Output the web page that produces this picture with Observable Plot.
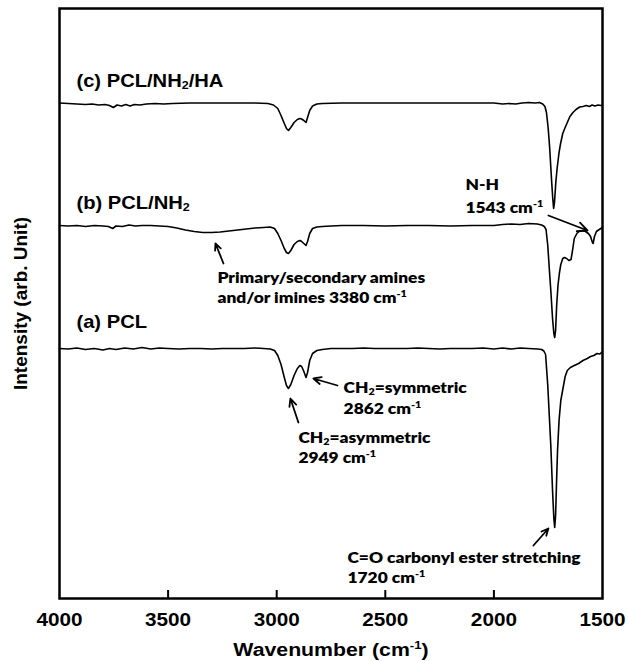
<!DOCTYPE html>
<html>
<head>
<meta charset="utf-8">
<script src="https://cdn.jsdelivr.net/npm/d3@7"></script>
<script src="https://cdn.jsdelivr.net/npm/@observablehq/plot@0.6"></script>
<style>
  html, body { margin: 0; padding: 0; background: #fff; }
</style>
</head>
<body>
<script>
// ---- Data (wavenumber cm^-1, intensity in arbitrary units) ----
const pcl = [
  [4000,250],[3960,249.5],[3920,250.5],[3880,249],[3840,250],[3800,248.5],[3770,250],[3740,249],
  [3700,250.5],[3660,249.5],[3620,251],[3580,249.5],[3540,250.5],[3500,250],[3450,249.5],[3400,250],
  [3350,250],[3300,249.5],[3250,250],[3200,250],[3150,250],[3100,250.5],[3060,250],[3030,249.5],
  [3010,248],[2995,243],[2980,234],[2965,221],[2955,213],[2946,210],[2935,214],[2920,223],[2905,230],
  [2893,233],[2885,232],[2875,227],[2865,221],[2858,226],[2848,238],[2835,245],[2815,248],[2790,249],
  [2750,250],[2700,250],[2650,250],[2600,250.5],[2550,250],[2500,250],[2450,250],[2400,250],
  [2350,250.5],[2300,250],[2250,249.5],[2200,250],[2150,250],[2100,250],[2050,250.5],[2000,249.5],
  [1960,250.5],[1920,249.5],[1880,250.5],[1840,250],[1800,249.5],[1780,249],[1770,247.5],[1762,244],
  [1752,213],[1745,183],[1738,153],[1730,108],[1724,80],[1720,71],[1716,83],[1712,113],[1707,148],
  [1700,178],[1692,198],[1682,210],[1672,222],[1662,228],[1648,231],[1630,233],[1610,235],[1590,238],
  [1570,240],[1555,242],[1540,243],[1525,245],[1512,244.5],[1500,247]
];
const pclNH2 = [
  [4000,373],[3960,372.5],[3920,373],[3880,372],[3840,373],[3800,372.5],[3775,372],[3755,370],
  [3740,372.5],[3710,372],[3680,373.5],[3650,372.5],[3620,373],[3580,373],[3540,372.5],[3500,372],
  [3460,370.5],[3420,368.5],[3380,367],[3340,366],[3300,366],[3260,366.5],[3220,367.5],[3180,368.5],
  [3140,369.5],[3100,370.5],[3060,371],[3030,371.5],[3010,370],[2995,365],[2980,358],[2965,350],
  [2955,346],[2946,345],[2935,348],[2920,354],[2905,357],[2893,358],[2885,357],[2875,355],[2865,353],
  [2858,357],[2848,365],[2835,370],[2815,371.5],[2790,372],[2750,372.5],[2700,373],[2600,373],
  [2500,372.5],[2400,373],[2300,373],[2200,372.5],[2100,373],[2000,373],[1960,374],[1920,374.5],
  [1880,374],[1840,375],[1800,374.5],[1780,373.5],[1768,372],[1760,369],[1752,353],[1745,330],
  [1738,308],[1730,280],[1724,265],[1720,261],[1716,268],[1711,293],[1705,313],[1698,326],[1692,334],
  [1683,340],[1675,341],[1665,340],[1655,338],[1645,339],[1638,348],[1630,360],[1618,365],
  [1605,367.5],[1592,368],[1578,367],[1565,365],[1555,362],[1548,357],[1543,355],[1537,362],
  [1528,367],[1515,369],[1500,371]
];
const pclNH2HA = [
  [4000,495.5],[3960,495],[3920,494.5],[3880,494],[3850,494.5],[3820,493.5],[3790,494],[3770,493],
  [3752,491],[3735,493.5],[3715,492.5],[3695,494],[3675,492.5],[3655,494],[3630,493.5],[3600,494.5],
  [3560,495],[3520,494.5],[3480,495],[3400,495.5],[3300,495.5],[3200,495.5],[3100,495.5],[3040,495],
  [3015,493.5],[2995,490],[2980,483],[2965,475],[2955,470],[2946,468],[2935,471],[2920,476],[2905,479],
  [2893,480],[2885,479.5],[2875,478],[2865,476],[2858,481],[2848,488],[2835,492.5],[2815,494.5],
  [2790,495],[2700,495.5],[2600,495.5],[2500,495.5],[2400,495.5],[2300,495.5],[2200,495.5],[2100,495.5],
  [2000,495.5],[1960,494.5],[1930,495],[1900,494.5],[1870,495.5],[1840,496],[1810,495.5],[1790,496],
  [1775,494.5],[1765,492],[1758,486],[1750,470],[1743,450],[1735,420],[1729,400],[1725,390],
  [1721,396],[1715,416],[1709,430],[1700,446],[1693,455],[1683,465],[1672,471],[1662,476],
  [1650,482],[1636,486],[1622,489],[1605,491.5],[1590,492],[1575,493],[1560,492],[1548,493.5],
  [1535,492.5],[1520,493.5],[1508,493],[1500,493.5]
];
const seriesNames = ["(a) PCL", "(b) PCL/NH_{2}", "(c) PCL/NH_{2}/HA"];
const seriesLabelWn = [3922, 3922, 3922];
const seriesLabelInt = [271, 390, 512];

const xTicks = [4000, 3500, 3000, 2500, 2000, 1500];
const innerTicks = [3500, 3000, 2500, 2000];

const noteTexts = [
  "Primary/secondary amines", "and/or imines 3380 cm^{-1}",
  "N-H", "1543 cm^{-1}",
  "CH_{2}=symmetric", "2862 cm^{-1}",
  "CH_{2}=asymmetric", "2949 cm^{-1}",
  "C=O carbonyl ester stretching", "1720 cm^{-1}"
];
const noteWn  = [3273, 3273, 2131, 2131, 2692, 2692, 2900, 2900, 2674, 2674];
const noteInt = [316, 296, 409, 386, 206, 185, 156, 136, 36, 16];

// arrows: tail (wn1,int1) -> head (wn2,int2)
const arrowWn1  = [3245, 1749, 2720, 2900, 1818];
const arrowInt1 = [335, 383, 213, 176, 53];
const arrowWn2  = [3282, 1569, 2831, 2937, 1749];
const arrowInt2 = [355, 368, 220, 200, 70];

// ---- Build tables ----
const lineData = [
  ...pcl.map(([w, v]) => ({series: "a", w, v})),
  ...pclNH2.map(([w, v]) => ({series: "b", w, v})),
  ...pclNH2HA.map(([w, v]) => ({series: "c", w, v}))
];
const seriesLabels = seriesNames.map((t, i) => ({t, w: seriesLabelWn[i], v: seriesLabelInt[i]}));
const notes = noteTexts.map((t, i) => ({t, w: noteWn[i], v: noteInt[i]}));
const arrows = arrowWn1.map((w, i) => ({x1: w, y1: arrowInt1[i], x2: arrowWn2[i], y2: arrowInt2[i]}));

const SANS = "'Liberation Sans', Arial, sans-serif";
const NOTE = "Lato, 'Open Sans', sans-serif";

const chart = Plot.plot({
  width: 629,
  height: 661,
  marginLeft: 59,
  marginRight: 27,
  marginTop: 8,
  marginBottom: 63,
  style: {fontFamily: SANS, background: "#fff", color: "#000"},
  x: {domain: [4000, 1500], axis: null},
  y: {domain: [0, 590], axis: null},
  marks: [
    Plot.line(lineData, {x: "w", y: "v", z: "series", stroke: "#000", strokeWidth: 1.6}),
    Plot.ruleX(innerTicks, {y1: 0, y2: 8, stroke: "#000", strokeWidth: 2}),
    Plot.frame({stroke: "#000", strokeWidth: 2.5}),
    Plot.axisX(xTicks, {tickSize: 0, tickPadding: 14, tickFormat: d => String(d), fontSize: 18.5, fontWeight: "bold", fontFamily: SANS, label: null}),
    Plot.text(["Wavenumber (cm^{-1})"], {frameAnchor: "bottom", dy: 57, fontSize: 19, fontWeight: "bold", fontFamily: SANS, lineAnchor: "bottom"}),
    Plot.text(["Intensity (arb. Unit)"], {frameAnchor: "left", dx: -39, rotate: -90, textAnchor: "middle", fontSize: 19, fontWeight: "bold", fontFamily: SANS}),
    Plot.text(seriesLabels, {x: "w", y: "v", text: "t", textAnchor: "start", lineAnchor: "bottom", fontSize: 18, fontWeight: "bold", fontFamily: SANS}),
    Plot.text(notes, {x: "w", y: "v", text: "t", textAnchor: "start", lineAnchor: "bottom", fontSize: 15.5, fontWeight: 800, fontFamily: NOTE}),
    Plot.arrow(arrows, {x1: "x1", y1: "y1", x2: "x2", y2: "y2", stroke: "#000", strokeWidth: 1.8, headLength: 9, headAngle: 50, ariaLabel: "annotation-arrow"})
  ]
});
document.body.append(chart);

// sub/superscript markup -> tspans
chart.querySelectorAll("text").forEach(el => {
  const s = el.textContent;
  if (!/[_^]\{/.test(s)) return;
  const fs = parseFloat(getComputedStyle(el).fontSize) || 16;
  const parts = s.split(/([_^]\{[^}]*\})/).filter(p => p);
  el.textContent = "";
  let cur = 0;
  for (const p of parts) {
    const m = p.match(/^([_^])\{([^}]*)\}$/);
    const t = document.createElementNS("http://www.w3.org/2000/svg", "tspan");
    const target = m ? (m[1] === "^" ? -0.36 * fs : 0.14 * fs) : 0;
    if (target - cur !== 0) t.setAttribute("dy", target - cur);
    cur = target;
    if (m) t.setAttribute("font-size", 0.62 * fs);
    t.textContent = m ? m[2] : p;
    el.append(t);
  }
});

// the reference glyphs are horizontally stretched (~1.12); widen horizontal texts
chart.querySelectorAll("text").forEach(el => {
  const tr = el.getAttribute("transform") || "";
  if (/rotate/.test(tr)) return;
  const anchorEl = el.closest("[text-anchor]");
  const anchor = anchorEl ? anchorEl.getAttribute("text-anchor") : "start";
  const bb = el.getBBox();
  const ox = anchor === "middle" ? bb.x + bb.width / 2 : anchor === "end" ? bb.x + bb.width : bb.x;
  el.setAttribute("transform", `${tr} translate(${ox},0) scale(1.12,1) translate(${-ox},0)`.trim());
});

// filled arrowheads like the reference
chart.querySelectorAll('[aria-label="annotation-arrow"] path').forEach(p => {
  const n = (p.getAttribute("d").match(/-?\d*\.?\d+(?:e-?\d+)?/gi) || []).map(Number);
  if (n.length < 10) return;
  const pts = [];
  for (let i = 0; i + 1 < n.length; i += 2) pts.push([n[i], n[i + 1]]);
  const tail = pts[0], head = pts[1], w1 = pts[2], w2 = pts[pts.length - 1];
  // shorten shaft so it ends at head base
  const bx = (w1[0] + w2[0]) / 2, by = (w1[1] + w2[1]) / 2;
  p.setAttribute("d", `M${tail[0]},${tail[1]}L${bx},${by}M${w1[0]},${w1[1]}L${head[0]},${head[1]}L${w2[0]},${w2[1]}Z`);
  p.setAttribute("fill", "#000");
  p.setAttribute("stroke-linejoin", "miter");
});
</script>
</body>
</html>
